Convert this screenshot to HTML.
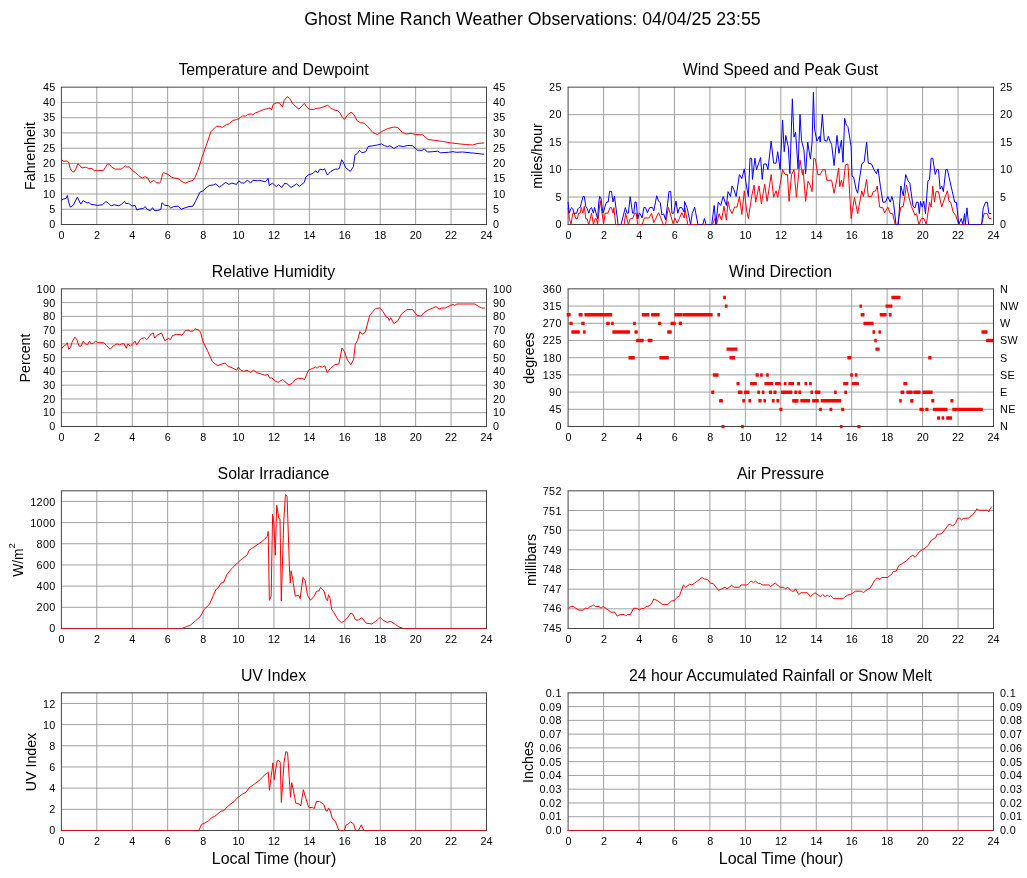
<!DOCTYPE html>
<html><head><meta charset="utf-8"><style>
html,body{margin:0;padding:0;background:#fff;overflow:hidden;}
svg{display:block;will-change:transform;}
text{font-family:"Liberation Sans", sans-serif;fill:#000;}
</style></head><body>
<svg width="1027" height="878" viewBox="0 0 1027 878">
<text x="532.4" y="25.2" font-size="17.75" text-anchor="middle" >Ghost Mine Ranch Weather Observations: 04/04/25 23:55</text>
<text x="273.5" y="75" font-size="15.85" text-anchor="middle" >Temperature and Dewpoint</text>
<path d="M96.83 87.17V224.50M132.25 87.17V224.50M167.68 87.17V224.50M203.10 87.17V224.50M238.53 87.17V224.50M273.95 87.17V224.50M309.38 87.17V224.50M344.80 87.17V224.50M380.22 87.17V224.50M415.65 87.17V224.50M451.07 87.17V224.50M61.40 209.24H486.50M61.40 193.98H486.50M61.40 178.72H486.50M61.40 163.46H486.50M61.40 148.21H486.50M61.40 132.95H486.50M61.40 117.69H486.50M61.40 102.43H486.50" stroke="#a0a0a0" stroke-width="1" fill="none"/>
<path d="M61.40 87.17V225.00M486.50 87.17V225.00M60.90 224.50H487.00M60.90 87.17H487.00" stroke="#444" stroke-width="1" fill="none"/>
<text x="55.7" y="228.0" font-size="10.8" text-anchor="end" letter-spacing="0.35">0</text>
<text x="55.7" y="212.77777777777777" font-size="10.8" text-anchor="end" letter-spacing="0.35">5</text>
<text x="55.7" y="197.55555555555554" font-size="10.8" text-anchor="end" letter-spacing="0.35">10</text>
<text x="55.7" y="182.33333333333334" font-size="10.8" text-anchor="end" letter-spacing="0.35">15</text>
<text x="55.7" y="167.11111111111111" font-size="10.8" text-anchor="end" letter-spacing="0.35">20</text>
<text x="55.7" y="151.88888888888889" font-size="10.8" text-anchor="end" letter-spacing="0.35">25</text>
<text x="55.7" y="136.66666666666669" font-size="10.8" text-anchor="end" letter-spacing="0.35">30</text>
<text x="55.7" y="121.44444444444444" font-size="10.8" text-anchor="end" letter-spacing="0.35">35</text>
<text x="55.7" y="106.22222222222223" font-size="10.8" text-anchor="end" letter-spacing="0.35">40</text>
<text x="55.7" y="91.0" font-size="10.8" text-anchor="end" letter-spacing="0.35">45</text>
<text x="493" y="228.0" font-size="10.8" text-anchor="start" letter-spacing="0.35">0</text>
<text x="493" y="212.77777777777777" font-size="10.8" text-anchor="start" letter-spacing="0.35">5</text>
<text x="493" y="197.55555555555554" font-size="10.8" text-anchor="start" letter-spacing="0.35">10</text>
<text x="493" y="182.33333333333334" font-size="10.8" text-anchor="start" letter-spacing="0.35">15</text>
<text x="493" y="167.11111111111111" font-size="10.8" text-anchor="start" letter-spacing="0.35">20</text>
<text x="493" y="151.88888888888889" font-size="10.8" text-anchor="start" letter-spacing="0.35">25</text>
<text x="493" y="136.66666666666669" font-size="10.8" text-anchor="start" letter-spacing="0.35">30</text>
<text x="493" y="121.44444444444444" font-size="10.8" text-anchor="start" letter-spacing="0.35">35</text>
<text x="493" y="106.22222222222223" font-size="10.8" text-anchor="start" letter-spacing="0.35">40</text>
<text x="493" y="91.0" font-size="10.8" text-anchor="start" letter-spacing="0.35">45</text>
<text x="61.5" y="239" font-size="10.8" text-anchor="middle" >0</text>
<text x="96.91666666666666" y="239" font-size="10.8" text-anchor="middle" >2</text>
<text x="132.33333333333331" y="239" font-size="10.8" text-anchor="middle" >4</text>
<text x="167.75" y="239" font-size="10.8" text-anchor="middle" >6</text>
<text x="203.16666666666666" y="239" font-size="10.8" text-anchor="middle" >8</text>
<text x="238.58333333333334" y="239" font-size="10.8" text-anchor="middle" >10</text>
<text x="274.0" y="239" font-size="10.8" text-anchor="middle" >12</text>
<text x="309.41666666666663" y="239" font-size="10.8" text-anchor="middle" >14</text>
<text x="344.8333333333333" y="239" font-size="10.8" text-anchor="middle" >16</text>
<text x="380.25" y="239" font-size="10.8" text-anchor="middle" >18</text>
<text x="415.6666666666667" y="239" font-size="10.8" text-anchor="middle" >20</text>
<text x="451.0833333333333" y="239" font-size="10.8" text-anchor="middle" >22</text>
<text x="486.5" y="239" font-size="10.8" text-anchor="middle" >24</text>
<text transform="translate(35,156.0) rotate(-90)" font-size="14.2" text-anchor="middle">Fahrenheit</text>
<text x="780.5" y="75" font-size="15.85" text-anchor="middle" >Wind Speed and Peak Gust</text>
<path d="M603.55 87.17V224.50M639.00 87.17V224.50M674.45 87.17V224.50M709.90 87.17V224.50M745.35 87.17V224.50M780.80 87.17V224.50M816.25 87.17V224.50M851.70 87.17V224.50M887.15 87.17V224.50M922.60 87.17V224.50M958.05 87.17V224.50M568.10 197.03H993.50M568.10 169.57H993.50M568.10 142.10H993.50M568.10 114.64H993.50" stroke="#a0a0a0" stroke-width="1" fill="none"/>
<path d="M568.10 87.17V225.00M993.50 87.17V225.00M567.60 224.50H994.00M567.60 87.17H994.00" stroke="#444" stroke-width="1" fill="none"/>
<text x="561.8" y="228.0" font-size="10.8" text-anchor="end" letter-spacing="0.35">0</text>
<text x="561.8" y="200.6" font-size="10.8" text-anchor="end" letter-spacing="0.35">5</text>
<text x="561.8" y="173.2" font-size="10.8" text-anchor="end" letter-spacing="0.35">10</text>
<text x="561.8" y="145.8" font-size="10.8" text-anchor="end" letter-spacing="0.35">15</text>
<text x="561.8" y="118.4" font-size="10.8" text-anchor="end" letter-spacing="0.35">20</text>
<text x="561.8" y="91.0" font-size="10.8" text-anchor="end" letter-spacing="0.35">25</text>
<text x="1000" y="228.0" font-size="10.8" text-anchor="start" letter-spacing="0.35">0</text>
<text x="1000" y="200.6" font-size="10.8" text-anchor="start" letter-spacing="0.35">5</text>
<text x="1000" y="173.2" font-size="10.8" text-anchor="start" letter-spacing="0.35">10</text>
<text x="1000" y="145.8" font-size="10.8" text-anchor="start" letter-spacing="0.35">15</text>
<text x="1000" y="118.4" font-size="10.8" text-anchor="start" letter-spacing="0.35">20</text>
<text x="1000" y="91.0" font-size="10.8" text-anchor="start" letter-spacing="0.35">25</text>
<text x="568.5" y="239" font-size="10.8" text-anchor="middle" >0</text>
<text x="603.9166666666666" y="239" font-size="10.8" text-anchor="middle" >2</text>
<text x="639.3333333333334" y="239" font-size="10.8" text-anchor="middle" >4</text>
<text x="674.75" y="239" font-size="10.8" text-anchor="middle" >6</text>
<text x="710.1666666666666" y="239" font-size="10.8" text-anchor="middle" >8</text>
<text x="745.5833333333334" y="239" font-size="10.8" text-anchor="middle" >10</text>
<text x="781.0" y="239" font-size="10.8" text-anchor="middle" >12</text>
<text x="816.4166666666666" y="239" font-size="10.8" text-anchor="middle" >14</text>
<text x="851.8333333333333" y="239" font-size="10.8" text-anchor="middle" >16</text>
<text x="887.25" y="239" font-size="10.8" text-anchor="middle" >18</text>
<text x="922.6666666666667" y="239" font-size="10.8" text-anchor="middle" >20</text>
<text x="958.0833333333333" y="239" font-size="10.8" text-anchor="middle" >22</text>
<text x="993.5" y="239" font-size="10.8" text-anchor="middle" >24</text>
<text transform="translate(542,156.0) rotate(-90)" font-size="14.2" text-anchor="middle">miles/hour</text>
<text x="273.5" y="277" font-size="15.85" text-anchor="middle" >Relative Humidity</text>
<path d="M96.83 288.83V426.50M132.25 288.83V426.50M167.68 288.83V426.50M203.10 288.83V426.50M238.53 288.83V426.50M273.95 288.83V426.50M309.38 288.83V426.50M344.80 288.83V426.50M380.22 288.83V426.50M415.65 288.83V426.50M451.07 288.83V426.50M61.40 412.73H486.50M61.40 398.97H486.50M61.40 385.20H486.50M61.40 371.43H486.50M61.40 357.66H486.50M61.40 343.90H486.50M61.40 330.13H486.50M61.40 316.36H486.50M61.40 302.60H486.50" stroke="#a0a0a0" stroke-width="1" fill="none"/>
<path d="M61.40 288.83V427.00M486.50 288.83V427.00M60.90 426.50H487.00M60.90 288.83H487.00" stroke="#444" stroke-width="1" fill="none"/>
<text x="55.7" y="430.0" font-size="10.8" text-anchor="end" letter-spacing="0.35">0</text>
<text x="55.7" y="416.3" font-size="10.8" text-anchor="end" letter-spacing="0.35">10</text>
<text x="55.7" y="402.6" font-size="10.8" text-anchor="end" letter-spacing="0.35">20</text>
<text x="55.7" y="388.9" font-size="10.8" text-anchor="end" letter-spacing="0.35">30</text>
<text x="55.7" y="375.2" font-size="10.8" text-anchor="end" letter-spacing="0.35">40</text>
<text x="55.7" y="361.5" font-size="10.8" text-anchor="end" letter-spacing="0.35">50</text>
<text x="55.7" y="347.8" font-size="10.8" text-anchor="end" letter-spacing="0.35">60</text>
<text x="55.7" y="334.1" font-size="10.8" text-anchor="end" letter-spacing="0.35">70</text>
<text x="55.7" y="320.4" font-size="10.8" text-anchor="end" letter-spacing="0.35">80</text>
<text x="55.7" y="306.7" font-size="10.8" text-anchor="end" letter-spacing="0.35">90</text>
<text x="55.7" y="293.0" font-size="10.8" text-anchor="end" letter-spacing="0.35">100</text>
<text x="493" y="430.0" font-size="10.8" text-anchor="start" letter-spacing="0.35">0</text>
<text x="493" y="416.3" font-size="10.8" text-anchor="start" letter-spacing="0.35">10</text>
<text x="493" y="402.6" font-size="10.8" text-anchor="start" letter-spacing="0.35">20</text>
<text x="493" y="388.9" font-size="10.8" text-anchor="start" letter-spacing="0.35">30</text>
<text x="493" y="375.2" font-size="10.8" text-anchor="start" letter-spacing="0.35">40</text>
<text x="493" y="361.5" font-size="10.8" text-anchor="start" letter-spacing="0.35">50</text>
<text x="493" y="347.8" font-size="10.8" text-anchor="start" letter-spacing="0.35">60</text>
<text x="493" y="334.1" font-size="10.8" text-anchor="start" letter-spacing="0.35">70</text>
<text x="493" y="320.4" font-size="10.8" text-anchor="start" letter-spacing="0.35">80</text>
<text x="493" y="306.7" font-size="10.8" text-anchor="start" letter-spacing="0.35">90</text>
<text x="493" y="293.0" font-size="10.8" text-anchor="start" letter-spacing="0.35">100</text>
<text x="61.5" y="441" font-size="10.8" text-anchor="middle" >0</text>
<text x="96.91666666666666" y="441" font-size="10.8" text-anchor="middle" >2</text>
<text x="132.33333333333331" y="441" font-size="10.8" text-anchor="middle" >4</text>
<text x="167.75" y="441" font-size="10.8" text-anchor="middle" >6</text>
<text x="203.16666666666666" y="441" font-size="10.8" text-anchor="middle" >8</text>
<text x="238.58333333333334" y="441" font-size="10.8" text-anchor="middle" >10</text>
<text x="274.0" y="441" font-size="10.8" text-anchor="middle" >12</text>
<text x="309.41666666666663" y="441" font-size="10.8" text-anchor="middle" >14</text>
<text x="344.8333333333333" y="441" font-size="10.8" text-anchor="middle" >16</text>
<text x="380.25" y="441" font-size="10.8" text-anchor="middle" >18</text>
<text x="415.6666666666667" y="441" font-size="10.8" text-anchor="middle" >20</text>
<text x="451.0833333333333" y="441" font-size="10.8" text-anchor="middle" >22</text>
<text x="486.5" y="441" font-size="10.8" text-anchor="middle" >24</text>
<text transform="translate(30.3,358.0) rotate(-90)" font-size="14.2" text-anchor="middle">Percent</text>
<text x="780.5" y="277" font-size="15.85" text-anchor="middle" >Wind Direction</text>
<path d="M603.55 288.83V426.50M639.00 288.83V426.50M674.45 288.83V426.50M709.90 288.83V426.50M745.35 288.83V426.50M780.80 288.83V426.50M816.25 288.83V426.50M851.70 288.83V426.50M887.15 288.83V426.50M922.60 288.83V426.50M958.05 288.83V426.50M568.10 409.29H993.50M568.10 392.08H993.50M568.10 374.87H993.50M568.10 357.66H993.50M568.10 340.46H993.50M568.10 323.25H993.50M568.10 306.04H993.50" stroke="#a0a0a0" stroke-width="1" fill="none"/>
<path d="M568.10 288.83V427.00M993.50 288.83V427.00M567.60 426.50H994.00M567.60 288.83H994.00" stroke="#444" stroke-width="1" fill="none"/>
<text x="561.8" y="430.0" font-size="10.8" text-anchor="end" letter-spacing="0.35">0</text>
<text x="561.8" y="412.875" font-size="10.8" text-anchor="end" letter-spacing="0.35">45</text>
<text x="561.8" y="395.75" font-size="10.8" text-anchor="end" letter-spacing="0.35">90</text>
<text x="561.8" y="378.625" font-size="10.8" text-anchor="end" letter-spacing="0.35">135</text>
<text x="561.8" y="361.5" font-size="10.8" text-anchor="end" letter-spacing="0.35">180</text>
<text x="561.8" y="344.375" font-size="10.8" text-anchor="end" letter-spacing="0.35">225</text>
<text x="561.8" y="327.25" font-size="10.8" text-anchor="end" letter-spacing="0.35">270</text>
<text x="561.8" y="310.125" font-size="10.8" text-anchor="end" letter-spacing="0.35">315</text>
<text x="561.8" y="293.0" font-size="10.8" text-anchor="end" letter-spacing="0.35">360</text>
<text x="1000" y="430.0" font-size="10.8" text-anchor="start" letter-spacing="0.35">N</text>
<text x="1000" y="412.875" font-size="10.8" text-anchor="start" letter-spacing="0.35">NE</text>
<text x="1000" y="395.75" font-size="10.8" text-anchor="start" letter-spacing="0.35">E</text>
<text x="1000" y="378.625" font-size="10.8" text-anchor="start" letter-spacing="0.35">SE</text>
<text x="1000" y="361.5" font-size="10.8" text-anchor="start" letter-spacing="0.35">S</text>
<text x="1000" y="344.375" font-size="10.8" text-anchor="start" letter-spacing="0.35">SW</text>
<text x="1000" y="327.25" font-size="10.8" text-anchor="start" letter-spacing="0.35">W</text>
<text x="1000" y="310.125" font-size="10.8" text-anchor="start" letter-spacing="0.35">NW</text>
<text x="1000" y="293.0" font-size="10.8" text-anchor="start" letter-spacing="0.35">N</text>
<text x="568.5" y="441" font-size="10.8" text-anchor="middle" >0</text>
<text x="603.9166666666666" y="441" font-size="10.8" text-anchor="middle" >2</text>
<text x="639.3333333333334" y="441" font-size="10.8" text-anchor="middle" >4</text>
<text x="674.75" y="441" font-size="10.8" text-anchor="middle" >6</text>
<text x="710.1666666666666" y="441" font-size="10.8" text-anchor="middle" >8</text>
<text x="745.5833333333334" y="441" font-size="10.8" text-anchor="middle" >10</text>
<text x="781.0" y="441" font-size="10.8" text-anchor="middle" >12</text>
<text x="816.4166666666666" y="441" font-size="10.8" text-anchor="middle" >14</text>
<text x="851.8333333333333" y="441" font-size="10.8" text-anchor="middle" >16</text>
<text x="887.25" y="441" font-size="10.8" text-anchor="middle" >18</text>
<text x="922.6666666666667" y="441" font-size="10.8" text-anchor="middle" >20</text>
<text x="958.0833333333333" y="441" font-size="10.8" text-anchor="middle" >22</text>
<text x="993.5" y="441" font-size="10.8" text-anchor="middle" >24</text>
<text transform="translate(533.5,358.0) rotate(-90)" font-size="14.2" text-anchor="middle">degrees</text>
<text x="273.5" y="479" font-size="15.85" text-anchor="middle" >Solar Irradiance</text>
<path d="M96.83 490.83V628.50M132.25 490.83V628.50M167.68 490.83V628.50M203.10 490.83V628.50M238.53 490.83V628.50M273.95 490.83V628.50M309.38 490.83V628.50M344.80 490.83V628.50M380.22 490.83V628.50M415.65 490.83V628.50M451.07 490.83V628.50M61.40 607.32H486.50M61.40 586.14H486.50M61.40 564.96H486.50M61.40 543.78H486.50M61.40 522.60H486.50M61.40 501.42H486.50" stroke="#a0a0a0" stroke-width="1" fill="none"/>
<path d="M61.40 490.83V629.00M486.50 490.83V629.00M60.90 628.50H487.00M60.90 490.83H487.00" stroke="#444" stroke-width="1" fill="none"/>
<text x="55.7" y="632.0" font-size="10.8" text-anchor="end" letter-spacing="0.35">0</text>
<text x="55.7" y="610.9230769230769" font-size="10.8" text-anchor="end" letter-spacing="0.35">200</text>
<text x="55.7" y="589.8461538461538" font-size="10.8" text-anchor="end" letter-spacing="0.35">400</text>
<text x="55.7" y="568.7692307692307" font-size="10.8" text-anchor="end" letter-spacing="0.35">600</text>
<text x="55.7" y="547.6923076923077" font-size="10.8" text-anchor="end" letter-spacing="0.35">800</text>
<text x="55.7" y="526.6153846153846" font-size="10.8" text-anchor="end" letter-spacing="0.35">1000</text>
<text x="55.7" y="505.53846153846155" font-size="10.8" text-anchor="end" letter-spacing="0.35">1200</text>
<text x="61.5" y="643" font-size="10.8" text-anchor="middle" >0</text>
<text x="96.91666666666666" y="643" font-size="10.8" text-anchor="middle" >2</text>
<text x="132.33333333333331" y="643" font-size="10.8" text-anchor="middle" >4</text>
<text x="167.75" y="643" font-size="10.8" text-anchor="middle" >6</text>
<text x="203.16666666666666" y="643" font-size="10.8" text-anchor="middle" >8</text>
<text x="238.58333333333334" y="643" font-size="10.8" text-anchor="middle" >10</text>
<text x="274.0" y="643" font-size="10.8" text-anchor="middle" >12</text>
<text x="309.41666666666663" y="643" font-size="10.8" text-anchor="middle" >14</text>
<text x="344.8333333333333" y="643" font-size="10.8" text-anchor="middle" >16</text>
<text x="380.25" y="643" font-size="10.8" text-anchor="middle" >18</text>
<text x="415.6666666666667" y="643" font-size="10.8" text-anchor="middle" >20</text>
<text x="451.0833333333333" y="643" font-size="10.8" text-anchor="middle" >22</text>
<text x="486.5" y="643" font-size="10.8" text-anchor="middle" >24</text>
<text x="780.5" y="479" font-size="15.85" text-anchor="middle" >Air Pressure</text>
<path d="M603.55 490.83V628.50M639.00 490.83V628.50M674.45 490.83V628.50M709.90 490.83V628.50M745.35 490.83V628.50M780.80 490.83V628.50M816.25 490.83V628.50M851.70 490.83V628.50M887.15 490.83V628.50M922.60 490.83V628.50M958.05 490.83V628.50M568.10 608.83H993.50M568.10 589.17H993.50M568.10 569.50H993.50M568.10 549.83H993.50M568.10 530.16H993.50M568.10 510.50H993.50" stroke="#a0a0a0" stroke-width="1" fill="none"/>
<path d="M568.10 490.83V629.00M993.50 490.83V629.00M567.60 628.50H994.00M567.60 490.83H994.00" stroke="#444" stroke-width="1" fill="none"/>
<text x="561.8" y="632.0" font-size="10.8" text-anchor="end" letter-spacing="0.35">745</text>
<text x="561.8" y="612.4285714285714" font-size="10.8" text-anchor="end" letter-spacing="0.35">746</text>
<text x="561.8" y="592.8571428571429" font-size="10.8" text-anchor="end" letter-spacing="0.35">747</text>
<text x="561.8" y="573.2857142857143" font-size="10.8" text-anchor="end" letter-spacing="0.35">748</text>
<text x="561.8" y="553.7142857142857" font-size="10.8" text-anchor="end" letter-spacing="0.35">749</text>
<text x="561.8" y="534.1428571428571" font-size="10.8" text-anchor="end" letter-spacing="0.35">750</text>
<text x="561.8" y="514.5714285714286" font-size="10.8" text-anchor="end" letter-spacing="0.35">751</text>
<text x="561.8" y="495.0" font-size="10.8" text-anchor="end" letter-spacing="0.35">752</text>
<text x="568.5" y="643" font-size="10.8" text-anchor="middle" >0</text>
<text x="603.9166666666666" y="643" font-size="10.8" text-anchor="middle" >2</text>
<text x="639.3333333333334" y="643" font-size="10.8" text-anchor="middle" >4</text>
<text x="674.75" y="643" font-size="10.8" text-anchor="middle" >6</text>
<text x="710.1666666666666" y="643" font-size="10.8" text-anchor="middle" >8</text>
<text x="745.5833333333334" y="643" font-size="10.8" text-anchor="middle" >10</text>
<text x="781.0" y="643" font-size="10.8" text-anchor="middle" >12</text>
<text x="816.4166666666666" y="643" font-size="10.8" text-anchor="middle" >14</text>
<text x="851.8333333333333" y="643" font-size="10.8" text-anchor="middle" >16</text>
<text x="887.25" y="643" font-size="10.8" text-anchor="middle" >18</text>
<text x="922.6666666666667" y="643" font-size="10.8" text-anchor="middle" >20</text>
<text x="958.0833333333333" y="643" font-size="10.8" text-anchor="middle" >22</text>
<text x="993.5" y="643" font-size="10.8" text-anchor="middle" >24</text>
<text transform="translate(536,560.0) rotate(-90)" font-size="14.2" text-anchor="middle">millibars</text>
<text x="273.5" y="681" font-size="15.85" text-anchor="middle" >UV Index</text>
<path d="M96.83 692.83V830.50M132.25 692.83V830.50M167.68 692.83V830.50M203.10 692.83V830.50M238.53 692.83V830.50M273.95 692.83V830.50M309.38 692.83V830.50M344.80 692.83V830.50M380.22 692.83V830.50M415.65 692.83V830.50M451.07 692.83V830.50M61.40 809.32H486.50M61.40 788.14H486.50M61.40 766.96H486.50M61.40 745.78H486.50M61.40 724.60H486.50M61.40 703.42H486.50" stroke="#a0a0a0" stroke-width="1" fill="none"/>
<path d="M61.40 692.83V831.00M486.50 692.83V831.00M60.90 830.50H487.00M60.90 692.83H487.00" stroke="#444" stroke-width="1" fill="none"/>
<text x="55.7" y="834.0" font-size="10.8" text-anchor="end" letter-spacing="0.35">0</text>
<text x="55.7" y="812.9230769230769" font-size="10.8" text-anchor="end" letter-spacing="0.35">2</text>
<text x="55.7" y="791.8461538461538" font-size="10.8" text-anchor="end" letter-spacing="0.35">4</text>
<text x="55.7" y="770.7692307692307" font-size="10.8" text-anchor="end" letter-spacing="0.35">6</text>
<text x="55.7" y="749.6923076923077" font-size="10.8" text-anchor="end" letter-spacing="0.35">8</text>
<text x="55.7" y="728.6153846153846" font-size="10.8" text-anchor="end" letter-spacing="0.35">10</text>
<text x="55.7" y="707.5384615384615" font-size="10.8" text-anchor="end" letter-spacing="0.35">12</text>
<text x="61.5" y="845" font-size="10.8" text-anchor="middle" >0</text>
<text x="96.91666666666666" y="845" font-size="10.8" text-anchor="middle" >2</text>
<text x="132.33333333333331" y="845" font-size="10.8" text-anchor="middle" >4</text>
<text x="167.75" y="845" font-size="10.8" text-anchor="middle" >6</text>
<text x="203.16666666666666" y="845" font-size="10.8" text-anchor="middle" >8</text>
<text x="238.58333333333334" y="845" font-size="10.8" text-anchor="middle" >10</text>
<text x="274.0" y="845" font-size="10.8" text-anchor="middle" >12</text>
<text x="309.41666666666663" y="845" font-size="10.8" text-anchor="middle" >14</text>
<text x="344.8333333333333" y="845" font-size="10.8" text-anchor="middle" >16</text>
<text x="380.25" y="845" font-size="10.8" text-anchor="middle" >18</text>
<text x="415.6666666666667" y="845" font-size="10.8" text-anchor="middle" >20</text>
<text x="451.0833333333333" y="845" font-size="10.8" text-anchor="middle" >22</text>
<text x="486.5" y="845" font-size="10.8" text-anchor="middle" >24</text>
<text x="274.0" y="864" font-size="16.0" text-anchor="middle" >Local Time (hour)</text>
<text transform="translate(36,762.0) rotate(-90)" font-size="14.2" text-anchor="middle">UV Index</text>
<text x="780.5" y="681" font-size="15.85" text-anchor="middle" >24 hour Accumulated Rainfall or Snow Melt</text>
<path d="M603.55 692.83V830.50M639.00 692.83V830.50M674.45 692.83V830.50M709.90 692.83V830.50M745.35 692.83V830.50M780.80 692.83V830.50M816.25 692.83V830.50M851.70 692.83V830.50M887.15 692.83V830.50M922.60 692.83V830.50M958.05 692.83V830.50M568.10 816.73H993.50M568.10 802.97H993.50M568.10 789.20H993.50M568.10 775.43H993.50M568.10 761.66H993.50M568.10 747.90H993.50M568.10 734.13H993.50M568.10 720.36H993.50M568.10 706.60H993.50" stroke="#a0a0a0" stroke-width="1" fill="none"/>
<path d="M568.10 692.83V831.00M993.50 692.83V831.00M567.60 830.50H994.00M567.60 692.83H994.00" stroke="#444" stroke-width="1" fill="none"/>
<text x="561.8" y="834.0" font-size="10.8" text-anchor="end" letter-spacing="0.35">0.0</text>
<text x="561.8" y="820.3" font-size="10.8" text-anchor="end" letter-spacing="0.35">0.01</text>
<text x="561.8" y="806.6" font-size="10.8" text-anchor="end" letter-spacing="0.35">0.02</text>
<text x="561.8" y="792.9" font-size="10.8" text-anchor="end" letter-spacing="0.35">0.03</text>
<text x="561.8" y="779.2" font-size="10.8" text-anchor="end" letter-spacing="0.35">0.04</text>
<text x="561.8" y="765.5" font-size="10.8" text-anchor="end" letter-spacing="0.35">0.05</text>
<text x="561.8" y="751.8" font-size="10.8" text-anchor="end" letter-spacing="0.35">0.06</text>
<text x="561.8" y="738.1" font-size="10.8" text-anchor="end" letter-spacing="0.35">0.07</text>
<text x="561.8" y="724.4" font-size="10.8" text-anchor="end" letter-spacing="0.35">0.08</text>
<text x="561.8" y="710.7" font-size="10.8" text-anchor="end" letter-spacing="0.35">0.09</text>
<text x="561.8" y="697.0" font-size="10.8" text-anchor="end" letter-spacing="0.35">0.1</text>
<text x="1000" y="834.0" font-size="10.8" text-anchor="start" letter-spacing="0.35">0.0</text>
<text x="1000" y="820.3" font-size="10.8" text-anchor="start" letter-spacing="0.35">0.01</text>
<text x="1000" y="806.6" font-size="10.8" text-anchor="start" letter-spacing="0.35">0.02</text>
<text x="1000" y="792.9" font-size="10.8" text-anchor="start" letter-spacing="0.35">0.03</text>
<text x="1000" y="779.2" font-size="10.8" text-anchor="start" letter-spacing="0.35">0.04</text>
<text x="1000" y="765.5" font-size="10.8" text-anchor="start" letter-spacing="0.35">0.05</text>
<text x="1000" y="751.8" font-size="10.8" text-anchor="start" letter-spacing="0.35">0.06</text>
<text x="1000" y="738.1" font-size="10.8" text-anchor="start" letter-spacing="0.35">0.07</text>
<text x="1000" y="724.4" font-size="10.8" text-anchor="start" letter-spacing="0.35">0.08</text>
<text x="1000" y="710.7" font-size="10.8" text-anchor="start" letter-spacing="0.35">0.09</text>
<text x="1000" y="697.0" font-size="10.8" text-anchor="start" letter-spacing="0.35">0.1</text>
<text x="568.5" y="845" font-size="10.8" text-anchor="middle" >0</text>
<text x="603.9166666666666" y="845" font-size="10.8" text-anchor="middle" >2</text>
<text x="639.3333333333334" y="845" font-size="10.8" text-anchor="middle" >4</text>
<text x="674.75" y="845" font-size="10.8" text-anchor="middle" >6</text>
<text x="710.1666666666666" y="845" font-size="10.8" text-anchor="middle" >8</text>
<text x="745.5833333333334" y="845" font-size="10.8" text-anchor="middle" >10</text>
<text x="781.0" y="845" font-size="10.8" text-anchor="middle" >12</text>
<text x="816.4166666666666" y="845" font-size="10.8" text-anchor="middle" >14</text>
<text x="851.8333333333333" y="845" font-size="10.8" text-anchor="middle" >16</text>
<text x="887.25" y="845" font-size="10.8" text-anchor="middle" >18</text>
<text x="922.6666666666667" y="845" font-size="10.8" text-anchor="middle" >20</text>
<text x="958.0833333333333" y="845" font-size="10.8" text-anchor="middle" >22</text>
<text x="993.5" y="845" font-size="10.8" text-anchor="middle" >24</text>
<text x="781.0" y="864" font-size="16.0" text-anchor="middle" >Local Time (hour)</text>
<text transform="translate(533,762.0) rotate(-90)" font-size="14.2" text-anchor="middle">Inches</text>
<text transform="translate(23.2,560) rotate(-90)" font-size="13.8" text-anchor="middle">W/m<tspan dy="-8.2" font-size="9.5">2</tspan></text>
<polyline points="61.51,159.80 63.84,161.31 67.35,160.96 68.52,162.13 70.27,168.56 72.02,171.48 73.77,172.06 75.53,169.73 77.86,163.65 79.62,165.05 81.95,167.97 85.46,167.16 88.38,168.33 91.89,168.56 94.22,170.66 97.73,170.66 103.57,170.31 105.32,167.39 107.66,163.89 109.41,164.12 111.75,167.16 115.25,169.14 121.10,169.14 123.43,167.39 125.19,165.64 126.94,167.16 129.28,166.81 132.78,170.90 135.12,172.30 138.62,175.57 142.13,178.14 145.05,176.74 147.39,177.67 150.31,182.58 153.81,180.24 156.15,182.58 159.66,183.16 160.82,181.41 162.58,173.47 163.74,172.65 167.83,174.40 171.92,177.32 174.85,178.14 178.00,178.49 178.12,178.48 182.01,181.59 185.13,183.15 189.02,181.59 192.92,180.35 195.25,176.92 198.37,169.13 202.26,156.67 206.16,145.76 210.83,131.74 216.29,126.29 219.40,126.29 222.52,127.38 226.41,124.73 229.53,123.64 232.64,120.52 236.54,119.59 238.88,118.50 242.77,115.85 245.89,116.16 247.44,114.60 251.34,113.82 252.90,114.91 255.23,113.04 259.13,111.48 263.80,109.46 268.48,108.37 270.03,108.06 271.59,109.93 273.15,104.47 276.27,102.92 279.38,102.92 282.50,107.12 284.06,100.58 287.17,96.68 289.51,98.24 293.40,104.47 298.86,109.15 301.97,106.03 304.31,103.38 306.65,106.81 308.98,109.15 313.66,109.62 315.99,108.37 319.89,108.06 323.78,106.81 327.68,105.25 330.79,108.06 335.00,110.24 337.79,110.71 340.13,113.04 342.46,117.72 344.33,119.59 347.14,115.38 351.03,112.26 353.37,113.82 357.26,120.83 360.38,122.70 364.27,123.17 368.17,127.06 372.84,132.52 377.52,134.54 381.41,131.74 387.64,128.62 393.88,127.06 397.77,127.38 402.44,132.52 406.34,134.07 411.01,133.30 415.69,134.54 422.70,134.85 428.15,139.53 434.38,140.31 442.17,141.40 451.52,142.96 459.31,143.89 465.54,144.51 472.55,144.98 478.00,143.42 484.24,142.96" stroke="#ff0000" stroke-width="1" fill="none" stroke-linejoin="miter" stroke-miterlimit="3"/>
<polyline points="61.51,200.11 63.84,198.94 66.18,198.35 67.35,195.43 68.52,201.28 70.27,207.12 73.19,205.37 77.28,197.19 80.78,204.20 83.12,200.69 87.21,203.03 88.96,202.44 90.72,204.20 94.22,204.78 97.73,205.37 102.40,204.78 105.91,201.51 108.24,203.03 111.16,205.95 114.09,204.78 118.76,205.72 121.68,204.20 124.60,201.28 125.77,203.61 128.69,203.38 132.20,206.18 135.12,205.37 136.87,210.04 139.79,208.87 143.30,208.52 145.05,206.53 147.39,209.45 150.31,210.62 152.64,207.70 154.40,210.62 157.32,210.62 160.82,209.45 161.99,202.68 164.91,205.37 168.42,205.72 170.76,208.05 173.68,206.53 178.00,206.18 178.12,206.21 181.23,209.32 184.35,208.08 189.02,206.52 192.92,206.21 196.03,200.29 199.93,192.19 203.04,190.94 206.16,187.82 209.27,185.49 213.17,185.02 215.51,183.93 219.40,187.04 221.74,185.49 225.63,182.37 228.75,184.40 231.86,183.15 236.54,184.40 238.88,180.81 241.21,182.84 244.33,183.15 247.44,180.03 250.56,183.15 252.90,180.35 257.57,180.81 259.91,180.35 265.36,181.90 268.16,178.48 269.26,185.49 272.37,183.15 276.27,186.58 278.60,184.71 281.72,187.51 284.83,183.15 287.17,183.93 291.07,187.51 296.52,183.93 299.63,186.27 304.31,182.37 305.87,176.92 308.98,174.58 312.10,173.80 315.99,170.69 317.55,173.02 319.89,169.13 323.00,169.91 324.56,168.82 327.37,175.05 330.79,171.47 335.00,169.13 337.79,169.13 339.35,168.35 341.68,159.78 343.24,162.12 345.58,167.57 350.25,171.47 353.37,166.79 354.93,155.11 357.26,153.55 359.60,150.43 361.94,152.77 365.83,151.68 368.17,146.54 372.84,145.76 377.52,144.98 381.41,143.89 384.53,145.76 387.64,146.54 389.98,145.76 393.88,148.56 398.55,145.76 403.22,146.54 407.90,145.45 412.57,145.76 417.24,150.12 421.92,150.43 424.26,148.88 427.37,151.99 432.82,151.68 437.50,151.21 440.61,152.77 448.40,152.30 453.08,151.68 456.19,152.30 462.42,151.99 470.21,152.77 478.00,153.55 484.24,154.33" stroke="#0000ff" stroke-width="1" fill="none" stroke-linejoin="miter" stroke-miterlimit="3"/>
<polyline points="568.02,207.58 569.52,218.74 571.03,224.50 572.84,213.19 574.05,213.19 575.86,218.74 577.37,218.74 578.57,213.19 580.08,213.19 581.29,207.58 582.80,213.19 584.31,206.25 585.81,218.74 587.02,218.74 588.83,224.50 591.55,213.19 593.36,224.50 595.17,218.74 596.37,218.74 597.58,224.50 600.29,200.64 603.61,224.50 605.13,213.19 607.84,213.19 609.95,207.58 611.46,207.58 612.97,213.19 613.88,207.58 615.69,224.50 618.10,224.50 624.13,224.50 625.64,213.19 628.36,224.50 630.17,218.74 632.58,218.74 634.69,213.19 636.20,213.19 637.71,224.50 640.00,224.50 642.12,224.50 644.45,217.91 649.13,217.91 651.47,213.23 653.80,222.58 656.14,217.91 658.48,212.65 660.81,217.91 663.15,224.50 665.49,224.50 668.41,207.39 673.08,223.75 674.83,217.91 677.17,223.16 679.51,217.91 681.85,212.65 684.18,217.91 684.88,207.93 687.82,224.50 697.91,224.50 712.56,224.50 715.01,218.51 716.64,224.50 719.08,213.63 721.52,220.14 723.96,206.30 726.40,220.14 728.03,201.42 729.66,208.74 732.10,213.63 734.55,207.12 736.99,207.12 739.43,196.53 741.87,214.44 744.31,190.83 746.76,211.19 748.39,218.51 751.64,196.53 754.08,185.14 755.71,202.23 758.97,185.95 761.41,203.86 764.67,184.32 767.11,201.42 771.18,174.55 773.62,197.35 776.07,190.83 777.69,197.35 780.14,184.32 782.58,169.67 785.02,174.55 787.46,174.55 789.09,201.42 791.53,174.55 793.98,169.67 796.42,197.35 800.00,159.90 802.33,174.55 803.14,169.67 805.58,201.42 808.03,181.07 810.47,185.95 812.10,191.65 813.72,158.27 815.35,159.08 817.80,174.55 820.24,174.55 822.68,169.67 825.12,169.67 826.75,180.25 831.64,180.25 834.08,193.28 836.52,181.07 838.64,168.04 839.78,186.76 841.40,180.25 843.03,186.76 845.47,164.78 847.92,163.97 851.17,218.51 854.43,197.35 857.69,213.63 861.76,190.83 863.39,196.53 866.64,179.44 868.27,196.53 871.53,196.53 873.15,191.65 875.60,190.83 877.23,185.95 879.67,207.12 882.92,207.93 884.55,212.82 887.81,207.12 890.25,213.63 892.69,213.63 895.14,224.50 897.58,224.50 900.83,207.12 903.28,206.30 906.53,185.14 908.98,197.35 911.42,206.30 915.00,215.26 916.51,213.57 918.95,224.50 921.39,218.45 923.83,218.45 926.27,224.50 929.53,202.18 931.16,207.06 932.78,185.90 934.41,202.18 936.04,191.60 938.48,191.60 941.74,207.06 944.99,197.30 947.43,190.79 949.06,201.37 950.69,202.18 953.13,211.94 955.57,215.20 958.82,224.50 981.61,224.50 984.05,213.57 987.31,213.57 988.93,218.45 991.37,218.45" stroke="#ff0000" stroke-width="1" fill="none" stroke-linejoin="miter" stroke-miterlimit="3"/>
<polyline points="568.02,202.03 569.22,213.19 570.73,208.79 571.94,207.58 572.84,208.79 574.05,213.19 576.76,213.19 577.97,208.79 579.18,207.58 580.08,207.58 581.59,202.03 583.10,196.42 584.31,196.42 585.81,206.37 587.32,208.79 588.83,213.19 590.04,208.79 591.55,207.58 593.36,213.19 594.56,207.58 597.58,218.74 598.79,202.03 599.69,196.42 600.90,197.93 603.01,213.19 606.03,203.36 606.94,202.03 608.14,202.03 609.65,191.29 611.46,191.29 612.97,202.03 614.48,196.42 618.10,224.50 621.12,224.50 625.34,207.58 627.15,213.19 628.36,213.19 630.17,196.72 632.58,213.19 633.79,213.19 634.99,202.03 636.20,202.03 637.71,218.74 639.22,213.19 639.78,213.23 642.12,217.91 643.87,207.62 645.62,207.62 647.38,212.65 649.71,207.62 652.63,207.62 653.80,210.90 656.72,195.71 658.48,200.96 660.23,202.72 661.98,214.99 663.73,213.82 665.49,219.66 667.82,202.13 668.99,191.38 670.74,191.38 671.91,213.23 673.67,213.23 676.00,200.96 677.76,213.23 679.51,207.62 681.85,207.62 684.18,212.06 684.56,201.42 687.33,208.74 690.58,224.50 692.21,213.63 694.65,207.12 697.91,224.50 702.80,224.50 704.42,218.51 706.05,224.50 711.75,224.50 714.19,205.49 715.82,224.50 718.26,202.23 720.71,205.49 723.15,196.53 726.40,205.49 728.03,191.65 730.47,196.53 732.10,185.95 733.73,189.21 736.17,196.53 739.43,174.55 741.87,178.62 744.31,168.85 745.94,182.69 748.39,196.53 750.01,158.27 751.64,158.27 752.46,179.44 754.90,158.27 756.53,169.67 760.60,157.46 762.23,179.44 763.85,163.97 766.30,163.97 767.92,169.67 771.18,141.17 773.62,163.15 776.07,163.15 777.69,151.76 780.14,169.67 782.58,120.01 784.21,151.76 785.83,135.47 788.28,146.87 789.91,173.74 792.35,98.84 793.98,137.10 795.60,132.22 798.05,168.85 800.00,114.31 801.51,140.36 803.96,150.13 805.58,173.74 807.70,141.99 809.65,155.01 810.47,159.08 812.10,141.99 813.40,92.33 814.54,128.96 816.98,141.17 819.42,136.29 820.24,141.99 822.35,114.31 824.31,140.36 826.75,141.17 828.38,136.29 830.01,141.17 831.64,144.43 834.08,165.60 837.01,135.47 838.96,153.39 841.40,140.36 843.03,162.34 844.66,118.38 846.29,124.89 847.92,126.52 851.17,146.87 851.99,176.18 853.62,176.99 856.06,189.21 857.69,193.28 859.31,180.25 861.76,163.97 864.20,161.53 866.64,141.99 868.27,163.15 871.53,163.97 873.97,169.67 876.41,173.74 878.04,168.85 880.48,186.76 882.92,202.23 885.37,202.23 887.81,196.53 890.25,202.23 891.88,196.53 893.51,202.23 895.95,224.50 898.39,224.50 900.83,185.95 903.28,195.72 905.72,174.55 908.16,181.07 909.79,182.69 913.05,206.30 915.00,207.93 916.51,202.18 918.14,202.18 919.28,213.57 920.58,201.37 922.21,207.06 923.83,201.37 925.46,213.57 927.90,181.02 929.53,179.39 931.16,158.24 932.78,158.24 935.23,174.51 936.85,169.63 938.48,169.63 940.11,189.16 941.74,185.90 943.36,191.60 945.80,169.63 947.43,169.63 949.87,181.02 952.31,191.60 954.76,202.18 956.38,202.18 958.82,224.50 961.27,218.45 962.89,224.50 964.52,213.57 965.33,224.50 966.96,207.88 968.59,224.50 981.61,224.50 983.24,207.88 985.68,202.18 987.31,202.18 988.93,213.57 991.37,213.57" stroke="#0000ff" stroke-width="1" fill="none" stroke-linejoin="miter" stroke-miterlimit="3"/>
<polyline points="61.43,349.27 63.45,346.16 65.79,344.91 67.35,342.73 68.59,349.27 70.46,347.72 72.02,342.26 74.83,337.12 77.01,339.93 79.03,346.16 81.06,346.16 83.24,341.17 85.26,343.82 87.60,344.60 89.47,341.17 91.03,343.82 93.05,343.35 95.70,341.17 97.73,342.73 103.96,342.73 106.30,345.38 110.19,349.27 113.31,345.85 117.20,343.82 119.54,344.91 121.88,343.82 124.21,343.82 126.24,348.18 127.80,343.82 130.44,346.16 132.78,343.82 135.12,341.17 136.68,344.91 140.57,339.15 144.47,337.59 146.80,339.62 151.48,333.70 153.35,332.92 154.59,338.06 156.93,335.25 161.60,332.92 164.72,340.71 168.61,338.37 170.48,339.62 172.51,335.56 176.40,334.47 180.30,334.47 181.86,335.25 185.75,330.27 188.87,330.27 190.42,331.36 193.23,331.05 195.10,328.71 198.99,330.27 200.55,332.14 202.89,341.48 207.56,350.83 212.24,361.43 215.35,364.07 218.00,365.63 222.01,363.95 225.13,363.17 227.46,365.82 232.14,367.84 236.81,370.18 238.37,367.06 240.71,370.18 243.82,371.43 246.94,370.18 250.52,372.52 253.64,370.18 256.29,372.52 260.18,373.61 264.85,375.17 267.97,374.54 269.53,377.97 271.86,377.97 275.76,381.40 278.10,382.33 279.65,381.40 282.77,379.53 285.11,381.86 289.00,384.98 292.12,383.42 295.23,379.53 298.35,378.44 303.02,378.75 304.58,379.53 308.48,370.18 310.03,369.40 312.37,368.62 315.49,367.06 317.04,368.31 319.38,366.29 322.50,367.06 324.83,365.82 327.17,372.52 330.29,368.62 334.96,364.73 338.86,363.95 341.97,348.06 344.31,351.48 347.42,360.05 350.85,364.73 353.66,359.27 355.21,344.47 357.55,340.58 359.89,331.54 362.22,334.35 365.34,332.01 366.61,327.06 369.73,315.38 372.84,311.48 375.96,308.37 379.85,308.06 382.97,311.48 386.09,316.94 388.42,318.03 389.20,320.52 390.76,317.72 393.88,323.64 397.77,320.83 401.67,313.82 407.12,309.62 412.57,309.62 414.91,312.73 417.24,315.38 421.14,316.16 423.48,313.04 428.15,309.93 432.82,308.06 435.94,306.50 439.06,309.15 441.39,308.06 445.29,308.06 449.96,305.56 453.08,304.47 454.63,305.56 456.97,304.01 463.98,304.01 474.89,304.01 478.78,306.50 481.90,308.06 485.01,308.06" stroke="#ff0000" stroke-width="1" fill="none" stroke-linejoin="miter" stroke-miterlimit="3"/>
<polyline points="61.00,628.50 182.11,628.50 186.58,626.48 190.40,625.21 195.50,620.74 199.97,616.92 204.43,609.27 209.53,604.17 215.91,589.50 217.82,588.23 221.01,583.12 223.56,582.49 226.75,574.84 231.21,569.10 237.59,562.72 242.69,558.26 247.15,555.07 249.06,550.35 254.17,546.78 261.82,541.68 267.38,536.36 268.20,531.44 269.34,600.30 271.15,596.20 272.62,514.23 273.93,524.07 275.25,555.21 276.72,505.21 278.85,518.33 280.00,519.15 281.31,601.11 283.77,520.79 285.41,494.56 287.05,496.20 289.51,569.97 290.33,583.08 291.15,570.79 292.79,579.80 295.25,596.20 298.52,595.38 300.16,598.66 302.95,577.34 305.08,580.62 307.54,595.38 310.49,600.30 314.10,596.20 316.56,591.28 319.02,590.95 320.52,587.29 322.27,589.28 324.02,591.03 326.36,599.80 327.53,600.61 328.46,594.77 330.10,598.63 331.62,609.14 333.95,612.65 338.04,619.66 341.55,622.58 343.89,621.41 347.39,617.91 350.90,613.00 352.65,613.82 355.57,620.01 358.49,620.01 361.41,617.91 363.16,619.07 366.09,623.16 370.18,623.75 371.93,623.98 375.43,621.41 377.77,619.66 380.11,617.32 383.03,620.24 387.12,622.35 390.04,621.41 391.79,622.00 395.30,624.33 398.80,626.90 403.48,628.50 486.00,628.50" stroke="#ff0000" stroke-width="1" fill="none" stroke-linejoin="miter" stroke-miterlimit="3"/>
<polyline points="568.43,608.30 570.45,606.43 573.57,606.43 575.91,608.30 579.02,610.17 582.92,610.17 585.25,608.30 588.37,608.30 589.93,606.43 592.26,605.96 593.35,604.87 595.38,606.43 599.27,606.43 600.83,608.30 603.17,606.43 607.06,609.07 610.96,612.19 614.85,612.19 617.19,616.09 620.31,614.53 624.20,614.53 625.76,616.09 627.32,614.53 630.43,614.53 633.55,608.30 637.44,608.30 639.00,610.17 641.34,608.61 644.45,608.30 646.01,606.43 649.13,605.96 651.47,603.93 653.80,598.95 657.70,600.82 662.37,604.40 667.82,604.40 671.72,600.82 674.06,600.82 677.17,597.39 679.51,595.83 683.40,584.93 685.74,587.26 689.63,584.15 691.97,584.93 694.31,583.37 697.42,581.03 702.10,577.45 704.44,579.01 707.55,579.47 710.67,583.37 713.00,583.37 718.46,590.38 721.57,588.82 725.00,587.26 727.01,588.82 729.35,587.26 731.68,585.24 734.02,587.26 739.47,587.26 741.03,584.93 747.26,584.93 748.82,583.37 751.16,581.03 753.50,582.59 755.52,581.03 758.17,583.37 760.51,583.37 762.06,584.93 769.07,584.93 770.63,586.48 772.97,584.62 775.31,583.06 779.98,587.26 783.88,587.26 785.43,588.82 787.77,587.26 791.67,591.16 794.00,591.16 795.56,588.82 798.68,594.59 801.01,592.72 807.24,592.72 810.36,596.61 815.03,592.72 818.15,595.05 820.49,596.61 822.82,594.59 825.16,596.61 827.50,595.05 829.06,596.61 830.61,595.52 833.73,598.64 843.08,598.64 844.63,597.08 847.75,595.05 850.87,594.27 853.20,592.72 855.54,591.16 861.77,591.16 863.33,592.72 867.22,589.60 870.34,588.04 874.24,581.03 877.35,577.92 880.00,579.47 881.69,577.52 887.78,577.52 889.61,575.57 891.43,574.72 893.26,571.44 896.30,571.07 898.73,565.59 901.78,563.77 906.65,560.73 909.69,557.32 912.73,555.25 915.17,557.32 919.43,551.60 922.47,549.77 926.12,547.34 928.55,544.90 930.99,540.64 935.86,537.36 937.07,534.19 941.33,533.95 944.99,529.69 948.64,524.45 950.46,524.21 952.29,526.04 955.33,523.60 957.77,518.37 959.59,518.13 961.42,519.95 963.24,518.37 968.72,518.13 969.94,516.67 972.37,515.08 974.81,512.04 977.00,508.63 978.46,510.21 987.59,510.21 988.80,512.04 990.02,509.00 991.85,506.56" stroke="#ff0000" stroke-width="1" fill="none" stroke-linejoin="miter" stroke-miterlimit="3"/>
<polyline points="61.00,830.50 198.76,830.50 201.68,824.36 204.61,823.19 208.70,820.62 212.20,817.35 214.54,816.53 220.96,811.04 223.89,810.69 227.39,806.60 234.40,801.34 236.74,798.42 242.58,793.98 246.09,792.35 249.01,787.91 254.26,784.17 260.11,779.73 263.03,776.46 268.29,772.13 269.45,790.24 272.96,762.78 274.13,779.73 277.05,761.03 278.80,760.45 280.20,762.20 281.37,802.51 284.06,762.20 285.81,751.68 287.57,752.27 290.49,797.25 291.66,782.65 293.41,790.24 295.74,803.10 299.83,804.26 300.77,806.02 303.34,789.66 305.68,797.84 308.60,807.19 309.74,807.75 312.66,807.26 314.12,808.72 316.55,801.42 319.47,801.42 323.86,804.34 325.80,810.67 327.26,811.16 328.43,808.24 329.70,809.21 332.13,817.97 335.54,821.87 338.95,830.50 344.30,830.50 346.25,824.79 347.71,824.30 350.63,821.87 353.55,823.82 355.50,830.50 358.42,830.50 361.34,824.79 363.78,830.50 486.00,830.50" stroke="#ff0000" stroke-width="1" fill="none" stroke-linejoin="miter" stroke-miterlimit="3"/>
<polyline points="568.00,830.50 993.00,830.50" stroke="#ff0000" stroke-width="1" fill="none" stroke-linejoin="miter" stroke-miterlimit="3"/>
<rect x="566.62" y="313.04" width="4.06" height="3.4" rx="0.4" fill="#ff0000"/>
<rect x="578.59" y="313.04" width="4.05" height="3.4" rx="0.4" fill="#ff0000"/>
<rect x="584.41" y="313.04" width="27.82" height="3.4" rx="0.4" fill="#ff0000"/>
<rect x="641.75" y="313.04" width="7.71" height="3.4" rx="0.4" fill="#ff0000"/>
<rect x="651.06" y="313.04" width="8.54" height="3.4" rx="0.4" fill="#ff0000"/>
<rect x="674.32" y="313.04" width="8.38" height="3.4" rx="0.4" fill="#ff0000"/>
<rect x="569.45" y="321.65" width="3.22" height="3.4" rx="0.4" fill="#ff0000"/>
<rect x="581.25" y="321.65" width="3.39" height="3.4" rx="0.4" fill="#ff0000"/>
<rect x="606.18" y="321.65" width="3.56" height="3.4" rx="0.4" fill="#ff0000"/>
<rect x="611.17" y="321.65" width="2.60" height="3.4" rx="0.4" fill="#ff0000"/>
<rect x="633.11" y="321.65" width="2.72" height="3.4" rx="0.4" fill="#ff0000"/>
<rect x="658.04" y="321.65" width="3.05" height="3.4" rx="0.4" fill="#ff0000"/>
<rect x="670.50" y="321.65" width="5.22" height="3.4" rx="0.4" fill="#ff0000"/>
<rect x="678.81" y="321.65" width="2.89" height="3.4" rx="0.4" fill="#ff0000"/>
<rect x="571.28" y="330.25" width="8.54" height="3.4" rx="0.4" fill="#ff0000"/>
<rect x="582.91" y="330.25" width="2.73" height="3.4" rx="0.4" fill="#ff0000"/>
<rect x="612.33" y="330.25" width="17.68" height="3.4" rx="0.4" fill="#ff0000"/>
<rect x="634.44" y="330.25" width="3.38" height="3.4" rx="0.4" fill="#ff0000"/>
<rect x="667.18" y="330.25" width="4.55" height="3.4" rx="0.4" fill="#ff0000"/>
<rect x="636.10" y="338.86" width="7.54" height="3.4" rx="0.4" fill="#ff0000"/>
<rect x="647.73" y="338.86" width="4.72" height="3.4" rx="0.4" fill="#ff0000"/>
<rect x="628.45" y="356.06" width="6.38" height="3.4" rx="0.4" fill="#ff0000"/>
<rect x="659.37" y="356.06" width="9.37" height="3.4" rx="0.4" fill="#ff0000"/>
<rect x="723.18" y="295.83" width="2.72" height="3.4" rx="0.4" fill="#ff0000"/>
<rect x="724.84" y="304.44" width="2.72" height="3.4" rx="0.4" fill="#ff0000"/>
<rect x="682.95" y="313.04" width="29.65" height="3.4" rx="0.4" fill="#ff0000"/>
<rect x="717.36" y="313.04" width="2.72" height="3.4" rx="0.4" fill="#ff0000"/>
<rect x="679.13" y="321.65" width="2.73" height="3.4" rx="0.4" fill="#ff0000"/>
<rect x="726.50" y="347.46" width="11.03" height="3.4" rx="0.4" fill="#ff0000"/>
<rect x="729.49" y="356.06" width="5.55" height="3.4" rx="0.4" fill="#ff0000"/>
<rect x="712.87" y="373.27" width="5.72" height="3.4" rx="0.4" fill="#ff0000"/>
<rect x="755.59" y="373.27" width="3.22" height="3.4" rx="0.4" fill="#ff0000"/>
<rect x="760.07" y="373.27" width="2.73" height="3.4" rx="0.4" fill="#ff0000"/>
<rect x="766.06" y="373.27" width="2.72" height="3.4" rx="0.4" fill="#ff0000"/>
<rect x="736.47" y="381.88" width="3.06" height="3.4" rx="0.4" fill="#ff0000"/>
<rect x="750.10" y="381.88" width="6.71" height="3.4" rx="0.4" fill="#ff0000"/>
<rect x="764.39" y="381.88" width="8.88" height="3.4" rx="0.4" fill="#ff0000"/>
<rect x="775.03" y="381.88" width="5.72" height="3.4" rx="0.4" fill="#ff0000"/>
<rect x="783.84" y="381.88" width="2.72" height="3.4" rx="0.4" fill="#ff0000"/>
<rect x="788.33" y="381.88" width="5.71" height="3.4" rx="0.4" fill="#ff0000"/>
<rect x="797.14" y="381.88" width="2.60" height="3.4" rx="0.4" fill="#ff0000"/>
<rect x="711.21" y="390.48" width="3.06" height="3.4" rx="0.4" fill="#ff0000"/>
<rect x="737.80" y="390.48" width="4.72" height="3.4" rx="0.4" fill="#ff0000"/>
<rect x="743.95" y="390.48" width="5.55" height="3.4" rx="0.4" fill="#ff0000"/>
<rect x="757.25" y="390.48" width="2.72" height="3.4" rx="0.4" fill="#ff0000"/>
<rect x="761.73" y="390.48" width="2.73" height="3.4" rx="0.4" fill="#ff0000"/>
<rect x="768.88" y="390.48" width="3.22" height="3.4" rx="0.4" fill="#ff0000"/>
<rect x="773.37" y="390.48" width="3.22" height="3.4" rx="0.4" fill="#ff0000"/>
<rect x="781.01" y="390.48" width="11.37" height="3.4" rx="0.4" fill="#ff0000"/>
<rect x="794.31" y="390.48" width="3.06" height="3.4" rx="0.4" fill="#ff0000"/>
<rect x="719.02" y="399.09" width="3.89" height="3.4" rx="0.4" fill="#ff0000"/>
<rect x="742.29" y="399.09" width="2.72" height="3.4" rx="0.4" fill="#ff0000"/>
<rect x="748.44" y="399.09" width="2.72" height="3.4" rx="0.4" fill="#ff0000"/>
<rect x="758.41" y="399.09" width="3.22" height="3.4" rx="0.4" fill="#ff0000"/>
<rect x="763.40" y="399.09" width="2.60" height="3.4" rx="0.4" fill="#ff0000"/>
<rect x="771.87" y="399.09" width="2.73" height="3.4" rx="0.4" fill="#ff0000"/>
<rect x="776.36" y="399.09" width="3.06" height="3.4" rx="0.4" fill="#ff0000"/>
<rect x="792.15" y="399.09" width="5.55" height="3.4" rx="0.4" fill="#ff0000"/>
<rect x="779.35" y="407.69" width="3.06" height="3.4" rx="0.4" fill="#ff0000"/>
<rect x="721.51" y="424.90" width="3.06" height="3.4" rx="0.4" fill="#ff0000"/>
<rect x="741.13" y="424.90" width="2.72" height="3.4" rx="0.4" fill="#ff0000"/>
<rect x="891.36" y="295.83" width="9.04" height="3.4" rx="0.4" fill="#ff0000"/>
<rect x="859.45" y="304.44" width="2.60" height="3.4" rx="0.4" fill="#ff0000"/>
<rect x="885.54" y="304.44" width="6.88" height="3.4" rx="0.4" fill="#ff0000"/>
<rect x="860.61" y="313.04" width="3.89" height="3.4" rx="0.4" fill="#ff0000"/>
<rect x="879.73" y="313.04" width="6.88" height="3.4" rx="0.4" fill="#ff0000"/>
<rect x="888.87" y="313.04" width="2.72" height="3.4" rx="0.4" fill="#ff0000"/>
<rect x="863.44" y="321.65" width="10.20" height="3.4" rx="0.4" fill="#ff0000"/>
<rect x="872.41" y="330.25" width="2.73" height="3.4" rx="0.4" fill="#ff0000"/>
<rect x="878.40" y="330.25" width="2.60" height="3.4" rx="0.4" fill="#ff0000"/>
<rect x="874.24" y="338.86" width="2.60" height="3.4" rx="0.4" fill="#ff0000"/>
<rect x="875.41" y="347.46" width="4.22" height="3.4" rx="0.4" fill="#ff0000"/>
<rect x="847.32" y="356.06" width="4.05" height="3.4" rx="0.4" fill="#ff0000"/>
<rect x="850.14" y="373.27" width="2.73" height="3.4" rx="0.4" fill="#ff0000"/>
<rect x="854.80" y="373.27" width="2.72" height="3.4" rx="0.4" fill="#ff0000"/>
<rect x="797.46" y="381.88" width="2.60" height="3.4" rx="0.4" fill="#ff0000"/>
<rect x="804.44" y="381.88" width="2.72" height="3.4" rx="0.4" fill="#ff0000"/>
<rect x="809.09" y="381.88" width="2.72" height="3.4" rx="0.4" fill="#ff0000"/>
<rect x="843.16" y="381.88" width="5.22" height="3.4" rx="0.4" fill="#ff0000"/>
<rect x="851.80" y="381.88" width="7.05" height="3.4" rx="0.4" fill="#ff0000"/>
<rect x="903.33" y="381.88" width="4.05" height="3.4" rx="0.4" fill="#ff0000"/>
<rect x="798.29" y="390.48" width="3.05" height="3.4" rx="0.4" fill="#ff0000"/>
<rect x="810.42" y="390.48" width="2.60" height="3.4" rx="0.4" fill="#ff0000"/>
<rect x="814.91" y="390.48" width="5.55" height="3.4" rx="0.4" fill="#ff0000"/>
<rect x="834.02" y="390.48" width="2.72" height="3.4" rx="0.4" fill="#ff0000"/>
<rect x="844.32" y="390.48" width="2.73" height="3.4" rx="0.4" fill="#ff0000"/>
<rect x="900.50" y="390.48" width="3.89" height="3.4" rx="0.4" fill="#ff0000"/>
<rect x="906.32" y="390.48" width="6.38" height="3.4" rx="0.4" fill="#ff0000"/>
<rect x="793.30" y="399.09" width="5.22" height="3.4" rx="0.4" fill="#ff0000"/>
<rect x="800.28" y="399.09" width="9.87" height="3.4" rx="0.4" fill="#ff0000"/>
<rect x="812.08" y="399.09" width="6.71" height="3.4" rx="0.4" fill="#ff0000"/>
<rect x="820.72" y="399.09" width="20.51" height="3.4" rx="0.4" fill="#ff0000"/>
<rect x="899.17" y="399.09" width="2.60" height="3.4" rx="0.4" fill="#ff0000"/>
<rect x="910.47" y="399.09" width="2.60" height="3.4" rx="0.4" fill="#ff0000"/>
<rect x="819.06" y="407.69" width="2.73" height="3.4" rx="0.4" fill="#ff0000"/>
<rect x="829.53" y="407.69" width="2.73" height="3.4" rx="0.4" fill="#ff0000"/>
<rect x="841.17" y="407.69" width="3.05" height="3.4" rx="0.4" fill="#ff0000"/>
<rect x="839.84" y="424.90" width="2.72" height="3.4" rx="0.4" fill="#ff0000"/>
<rect x="857.29" y="424.90" width="3.22" height="3.4" rx="0.4" fill="#ff0000"/>
<rect x="981.42" y="330.25" width="6.04" height="3.4" rx="0.4" fill="#ff0000"/>
<rect x="986.07" y="338.86" width="7.21" height="3.4" rx="0.4" fill="#ff0000"/>
<rect x="928.23" y="356.06" width="3.22" height="3.4" rx="0.4" fill="#ff0000"/>
<rect x="913.27" y="390.48" width="7.38" height="3.4" rx="0.4" fill="#ff0000"/>
<rect x="922.41" y="390.48" width="10.21" height="3.4" rx="0.4" fill="#ff0000"/>
<rect x="910.28" y="399.09" width="3.22" height="3.4" rx="0.4" fill="#ff0000"/>
<rect x="931.22" y="399.09" width="3.06" height="3.4" rx="0.4" fill="#ff0000"/>
<rect x="950.34" y="399.09" width="3.05" height="3.4" rx="0.4" fill="#ff0000"/>
<rect x="919.42" y="407.69" width="4.39" height="3.4" rx="0.4" fill="#ff0000"/>
<rect x="925.24" y="407.69" width="3.22" height="3.4" rx="0.4" fill="#ff0000"/>
<rect x="932.88" y="407.69" width="14.70" height="3.4" rx="0.4" fill="#ff0000"/>
<rect x="952.33" y="407.69" width="30.48" height="3.4" rx="0.4" fill="#ff0000"/>
<rect x="937.04" y="416.30" width="3.06" height="3.4" rx="0.4" fill="#ff0000"/>
<rect x="941.53" y="416.30" width="2.72" height="3.4" rx="0.4" fill="#ff0000"/>
<rect x="946.18" y="416.30" width="5.88" height="3.4" rx="0.4" fill="#ff0000"/>
<path d="M61 224.5H487M568 224.5H994" stroke="#444" stroke-opacity="0.27" stroke-width="1" fill="none"/>
<path d="M61 426.5H487M568 426.5H994" stroke="#444" stroke-opacity="0.27" stroke-width="1" fill="none"/>
<path d="M61 628.5H487M568 628.5H994" stroke="#444" stroke-opacity="0.27" stroke-width="1" fill="none"/>
<path d="M61 830.5H487M568 830.5H994" stroke="#444" stroke-opacity="0.27" stroke-width="1" fill="none"/>
</svg></body></html>
